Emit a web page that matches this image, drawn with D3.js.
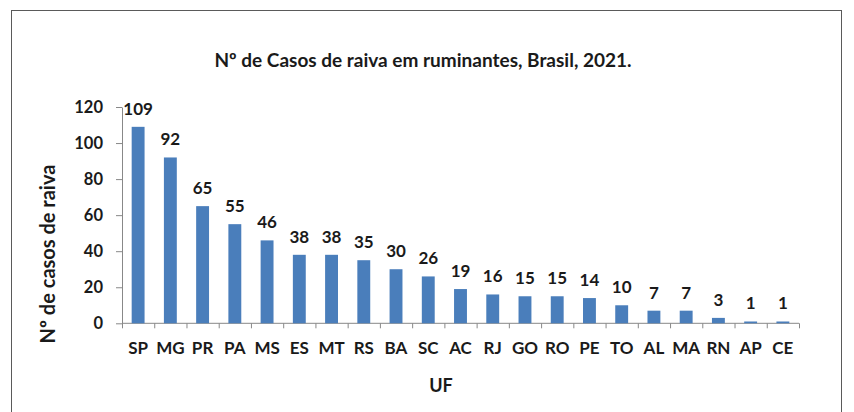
<!DOCTYPE html>
<html lang="pt">
<head>
<meta charset="UTF-8">
<title>Casos de raiva em ruminantes</title>
<script src="https://cdn.jsdelivr.net/npm/d3@7"></script>
<style>
    * { margin: 0; padding: 0; }
    body { background: #fff; }
    svg text { font-family: Lato, "Open Sans", sans-serif; font-weight: bold; fill: #1a1a1a; }
</style>
</head>
<body>
<div id="chart"></div>
<script>
// dados: casos por UF
var ufs = ['SP', 'MG', 'PR', 'PA', 'MS', 'ES', 'MT', 'RS', 'BA', 'SC', 'AC',
           'RJ', 'GO', 'RO', 'PE', 'TO', 'AL', 'MA', 'RN', 'AP', 'CE'];
var casos = [109, 92, 65, 55, 46, 38, 38, 35, 30, 26, 19, 16, 15, 15, 14, 10, 7, 7, 3, 1, 1];
var yTicks = [0, 20, 40, 60, 80, 100, 120];

var w = 854, h = 412;
var plotLeft = 122, plotRight = 799, plotTop = 107, plotBottom = 323.3;

var svg = d3.select('#chart').append('svg')
    .attr('width', w)
    .attr('height', h);

// moldura
svg.append('rect')
    .attr('x', 11.5).attr('y', 10.5)
    .attr('width', 830).attr('height', 420)
    .attr('fill', 'none')
    .attr('stroke', '#5a5a5a');

var data = ufs.map((d, i) => ({ uf: d, v: casos[i] }));

var x = d3.scaleBand()
    .domain(ufs)
    .range([plotLeft, plotRight])
    .paddingInner(0.6)
    .paddingOuter(0.3);

var y = d3.scaleLinear()
    .domain([0, 120])
    .range([plotBottom, plotTop]);

// eixo Y
var yAxis = svg.append('g')
    .attr('transform', 'translate(' + plotLeft + ',0)')
    .call(d3.axisLeft(y).tickValues(yTicks).tickSize(6).tickSizeOuter(0).tickPadding(13));
yAxis.select('.domain').attr('stroke', '#888');
yAxis.selectAll('.tick line').attr('stroke', '#888');
yAxis.selectAll('.tick text').style('font-size', '16.5px');

// eixo X: marcas entre categorias
var step = (plotRight - plotLeft) / ufs.length;
var xAxis = svg.append('g')
    .attr('transform', 'translate(0,' + plotBottom + ')');
xAxis.append('line')
    .attr('x1', plotLeft).attr('x2', plotRight)
    .attr('stroke', '#888');
xAxis.selectAll('line.tk')
    .data(d3.range(ufs.length + 1))
    .enter().append('line')
    .attr('class', 'tk')
    .attr('x1', (d) => plotLeft + d * step + 0.5)
    .attr('x2', (d) => plotLeft + d * step + 0.5)
    .attr('y1', 0).attr('y2', 5)
    .attr('stroke', '#888');
xAxis.selectAll('text')
    .data(ufs)
    .enter().append('text')
    .attr('x', (d) => x(d) + x.bandwidth() / 2)
    .attr('y', 31)
    .attr('text-anchor', 'middle')
    .style('font-size', '17px')
    .text((d) => d);

// barras
svg.selectAll('rect.bar')
    .data(data)
    .enter().append('rect')
    .attr('class', 'bar')
    .attr('x', (d) => x(d.uf))
    .attr('y', (d) => y(d.v))
    .attr('width', x.bandwidth())
    .attr('height', (d) => plotBottom - y(d.v))
    .attr('fill', '#4a7ebb');

// rotulos de valor
svg.selectAll('text.val')
    .data(data)
    .enter().append('text')
    .attr('class', 'val')
    .attr('x', (d) => x(d.uf) + x.bandwidth() / 2)
    .attr('y', (d) => y(d.v) - 12)
    .attr('text-anchor', 'middle')
    .style('font-size', '17px')
    .text((d) => d.v);

// titulos
svg.append('text')
    .attr('x', 423).attr('y', 67)
    .attr('text-anchor', 'middle')
    .style('font-size', '19px')
    .text('Nº de Casos de raiva em ruminantes, Brasil, 2021.');

svg.append('text')
    .attr('transform', 'translate(55,254) rotate(-90)')
    .attr('text-anchor', 'middle')
    .style('font-size', '20px')
    .text('Nº de casos de raiva');

svg.append('text')
    .attr('x', 441).attr('y', 392)
    .attr('text-anchor', 'middle')
    .style('font-size', '18px')
    .text('UF');
</script>
</body>
</html>
